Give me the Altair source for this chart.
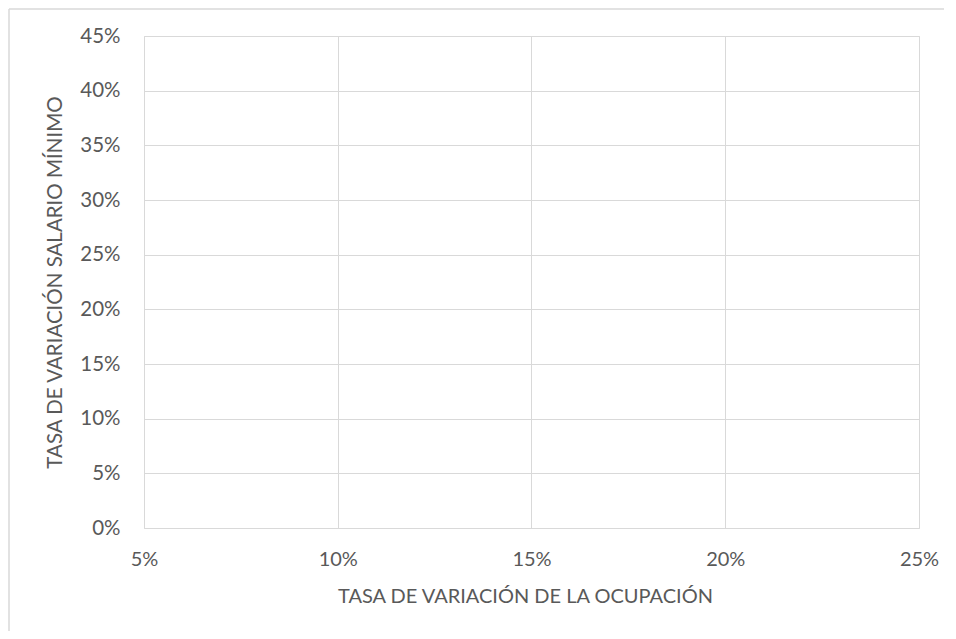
import altair as alt
import pandas as pd

# Data (the reference chart contains no plotted points)
ocupacion = []          # x: tasa de variación de la ocupación
salario_minimo = []     # y: tasa de variación salario mínimo

x_ticks = [0.05, 0.10, 0.15, 0.20, 0.25]
y_ticks = [0.00, 0.05, 0.10, 0.15, 0.20, 0.25, 0.30, 0.35, 0.40, 0.45]

df = pd.DataFrame({"ocupacion": pd.Series(ocupacion, dtype=float),
                   "salario": pd.Series(salario_minimo, dtype=float)})

FONT = "Lato"
GRID = "#d9d9d9"
TEXT = "#595959"

points = alt.Chart(df).mark_point(color="#4472c4", filled=True).encode(
    x=alt.X("ocupacion:Q",
            scale=alt.Scale(domain=[0.05, 0.25], nice=False, zero=False),
            axis=alt.Axis(values=x_ticks, format=".0%", grid=True, gridColor=GRID,
                          gridWidth=1, domain=False, ticks=False, labelPadding=21,
                          labelFont=FONT, labelFontSize=20, labelColor=TEXT,
                          title="TASA DE VARIACIÓN DE LA OCUPACIÓN",
                          titleFont=FONT, titleFontSize=20, titleFontWeight="normal",
                          titleColor=TEXT, titlePadding=17, titleX=381,
                          titleAlign="center", labelFlush=False)),
    y=alt.Y("salario:Q",
            scale=alt.Scale(domain=[0.0, 0.45], nice=False, zero=False),
            axis=alt.Axis(values=y_ticks, format=".0%", grid=True, gridColor=GRID,
                          gridWidth=1, domain=False, ticks=False, labelPadding=24,
                          labelFont=FONT, labelFontSize=20.5, labelColor=TEXT,
                          title="TASA DE VARIACIÓN SALARIO MÍNIMO",
                          titleFont=FONT, titleFontSize=20.5, titleFontWeight="normal",
                          titleColor=TEXT, titlePadding=14, labelFlush=False)),
)

border_top = alt.Chart(alt.Data(values=[{}])).mark_rule(
    stroke=GRID, strokeWidth=1.5
).encode(x=alt.value(-135), x2=alt.value(800), y=alt.value(-27), y2=alt.value(-27))

border_left = alt.Chart(alt.Data(values=[{}])).mark_rule(
    stroke=GRID, strokeWidth=1.5
).encode(x=alt.value(-135), x2=alt.value(-135), y=alt.value(-27), y2=alt.value(2000))

chart = alt.layer(points, border_top, border_left).properties(
    width=775, height=492,
    autosize=alt.AutoSizeParams(type="none"),
    padding={"left": 136, "top": 28, "right": 29, "bottom": 103},
).configure_view(stroke=None).configure(background="white")

chart.save("out.html", embed_options={"renderer": "svg", "actions": False})
